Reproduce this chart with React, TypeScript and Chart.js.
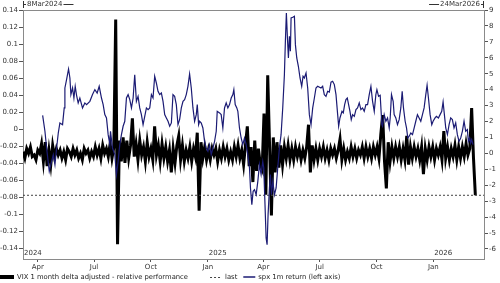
import React, { useEffect, useRef } from 'react';
import { Chart, registerables } from 'chart.js';

Chart.register(...registerables);

// ---- data ----
const startLabel = '8Mar2024';
const endLabel = '24Mar2026';
const axisMaxDay = 746; // days from 8 Mar 2024 to 24 Mar 2026

const monthTickDays = [24, 115, 207, 299, 389, 480, 572, 664];
const monthTickLabels = ['Apr', 'Jul', 'Oct', 'Jan', 'Apr', 'Jul', 'Oct', 'Jan'];
const yearLabels = ['2024', '2025', '2026'];
const yearLabelDays = [0, 299, 664];

const leftTicks = [0.14, 0.12, 0.1, 0.08, 0.06, 0.04, 0.02, 0, -0.02, -0.04, -0.06, -0.08, -0.1, -0.12, -0.14];
const rightTicks = [9, 8, 7, 6, 5, 4, 3, 2, 1, 0, -1, -2, -3, -4, -5, -6];

const legendLabels = ['VIX 1 month delta adjusted - relative performance', 'last', 'spx 1m return (left axis)'];

// spx 1m return (left axis), x in days since 8 Mar 2024
const spxDays = [
  31.8, 35.5, 38.2, 42.5, 46.3, 49.0, 51.7, 54.4, 57.1, 59.7, 64.0, 66.7, 67.8, 70.5, 73.7, 75.9, 77.5, 80.2, 82.4, 84.5,
  86.7, 89.3, 92.0, 96.3, 100.1, 102.8, 108.2, 112.5, 116.3, 120.0, 123.3, 127.0, 129.7, 132.4, 135.1, 137.8, 140.5, 141.6, 144.8, 148.6,
  151.2, 153.9, 156.6, 159.3, 162.0, 164.7, 167.4, 170.1, 172.8, 175.5, 178.2, 180.8, 183.5, 186.2, 188.9, 191.6, 194.3, 197.0, 199.7, 202.4,
  205.1, 207.8, 210.4, 213.1, 215.8, 218.5, 221.2, 223.9, 226.6, 229.3, 232.0, 234.7, 237.4, 240.1, 242.7, 245.4, 248.1, 250.8, 253.5, 256.2,
  258.9, 261.5, 264.2, 266.9, 269.6, 272.3, 275.0, 277.7, 280.4, 282.0, 284.2, 285.8, 288.5, 291.1, 293.8, 296.5, 299.2, 301.9, 304.6, 307.3,
  310.0, 312.7, 314.3, 318.1, 320.7, 323.4, 326.1, 328.8, 331.5, 334.2, 336.9, 339.6, 341.2, 343.4, 346.0, 347.7, 350.3, 353.0, 355.7, 358.4,
  361.1, 363.8, 366.5, 368.1, 370.3, 372.4, 374.6, 377.3, 380.0, 382.6, 385.3, 388.0, 389.6, 391.8, 393.4, 395.0, 396.6, 398.8, 400.4, 402.0,
  404.2, 406.9, 409.6, 412.2, 414.9, 417.6, 420.3, 423.0, 424.6, 426.2, 427.9, 429.5, 431.1, 432.7, 433.8, 436.5, 439.2, 440.8, 443.0, 445.6,
  448.3, 451.0, 453.2, 455.3, 458.0, 460.7, 463.4, 466.1, 468.8, 471.5, 474.1, 476.8, 482.2, 484.9, 487.6, 490.3, 493.0, 495.7, 498.4, 501.1,
  503.8, 506.5, 509.2, 510.8, 512.9, 516.2, 518.3, 520.5, 522.6, 524.8, 526.9, 529.1, 531.2, 533.4, 536.1, 538.8, 541.4, 544.1, 546.8, 549.5,
  552.2, 554.9, 557.6, 560.3, 563.0, 565.7, 568.4, 571.0, 572.7, 575.4, 578.0, 580.7, 581.8, 584.5, 587.2, 589.9, 592.6, 594.2, 596.3, 599.0,
  600.6, 603.3, 606.0, 608.7, 611.4, 613.6, 615.7, 618.4, 620.6, 622.7, 624.9, 627.6, 630.3, 633.0, 635.6, 638.3, 641.0, 643.7, 646.4, 649.1,
  651.8, 653.9, 656.1, 658.8, 661.5, 663.6, 666.8, 669.0, 672.2, 674.9, 677.6, 679.8, 681.9, 684.1, 686.8, 689.5, 692.1, 694.8, 697.5, 700.2,
  702.9, 705.6, 708.3, 711.0, 713.7, 716.4, 719.1, 720.7, 722.8, 724.4, 726.1, 728.2
];
const spxValues = [
  0.0167, -0.0021, -0.0218, -0.0493, -0.0375, -0.0296, -0.0414, -0.0218, -0.0041, 0.0077, 0.0057, 0.0254, 0.0489, 0.0588, 0.0713, 0.0607, 0.0411, 0.0489, 0.0371, 0.0509,
  0.0403, 0.0313, 0.0371, 0.0254, 0.0313, 0.0293, 0.0332, 0.0411, 0.0470, 0.0430, 0.0509, 0.0371, 0.0293, 0.0175, 0.0136, -0.0061, -0.0178, -0.0021, -0.0218, -0.0296,
  -0.0532, -0.0375, -0.0178, -0.0061, 0.0038, 0.0097, 0.0371, 0.0411, 0.0352, 0.0254, 0.0371, 0.0646, 0.0332, 0.0391, 0.0254, 0.0175, 0.0057, 0.0155, 0.0254, 0.0234,
  0.0254, 0.0411, 0.0371, 0.0627, 0.0548, 0.0450, 0.0411, 0.0430, 0.0332, 0.0175, 0.0136, 0.0097, 0.0038, 0.0077, 0.0411, 0.0391, 0.0293, 0.0057, 0.0120, 0.0254,
  0.0332, 0.0352, 0.0411, 0.0509, 0.0654, 0.0489, 0.0254, 0.0097, 0.0175, 0.0293, 0.0057, 0.0097, 0.0077, 0.0018, -0.0139, -0.0218, -0.0257, -0.0178, -0.0296, -0.0218,
  -0.0139, -0.0021, 0.0214, 0.0195, 0.0175, 0.0018, 0.0254, 0.0313, 0.0254, 0.0293, 0.0371, 0.0411, 0.0470, 0.0293, 0.0254, 0.0214, 0.0018, -0.0100, -0.0178, -0.0100,
  -0.0178, -0.0296, -0.0453, -0.0689, -0.0886, -0.0728, -0.0709, -0.0768, -0.0611, -0.0414, -0.0532, -0.0375, -0.0453, -0.0925, -0.1278, -0.1357, -0.1003, -0.0689, -0.0532, -0.0768,
  -0.0611, -0.0768, -0.0689, -0.0453, -0.0218, -0.0061, 0.0254, 0.0646, 0.1039, 0.1373, 0.1078, 0.0843, 0.1098, 0.0921, 0.1314, 0.1322, 0.1334, 0.1000, 0.0843, 0.0745,
  0.0607, 0.0509, 0.0627, 0.0607, 0.0666, 0.0489, 0.0175, 0.0057, 0.0254, 0.0371, 0.0489, 0.0509, 0.0489, 0.0509, 0.0411, 0.0391, 0.0450, 0.0440, 0.0558, 0.0568,
  0.0529, 0.0411, 0.0175, 0.0038, 0.0136, 0.0214, 0.0195, 0.0293, 0.0352, 0.0371, 0.0293, 0.0214, 0.0116, 0.0175, 0.0155, 0.0234, 0.0254, 0.0313, 0.0234, 0.0254,
  0.0214, 0.0293, 0.0293, 0.0411, 0.0509, 0.0332, 0.0214, 0.0411, 0.0470, 0.0391, 0.0403, 0.0057, 0.0038, 0.0175, 0.0097, 0.0136, 0.0018, 0.0136, 0.0411, 0.0332,
  0.0175, 0.0136, 0.0057, 0.0116, 0.0254, 0.0450, 0.0254, 0.0097, 0.0018, -0.0100, -0.0080, -0.0041, -0.0061, 0.0018, 0.0097, 0.0175, 0.0136, 0.0097, 0.0175, 0.0254,
  0.0411, 0.0521, 0.0371, 0.0175, 0.0057, 0.0097, 0.0136, 0.0155, 0.0136, 0.0175, 0.0214, 0.0324, 0.0175, 0.0018, -0.0061, 0.0057, 0.0136, 0.0116, 0.0018, 0.0077,
  -0.0061, -0.0139, -0.0100, -0.0021, 0.0097, -0.0021, -0.0002, -0.0139, -0.0100, -0.0159, -0.0119, -0.0178
];

// VIX 1 month delta adjusted - relative performance (right axis), one reading every 3 days from 8 Mar 2024
const vixStepDays = 3;
const vixValues = [
  0.1, -0.3, 0.3, 0.0, 0.4, -0.2, -0.1, -0.4, 0.2, 0.0,
  0.6, -0.5, 0.7, -0.8, 0.2, -0.7, 0.5, -0.2, 0.3, -0.1,
  0.2, -0.3, 0.1, -0.4, 0.3, 0.1, -0.2, 0.3, -0.1, 0.2,
  -0.3, 0.0, -0.4, 0.3, 0.0, 0.2, -0.3, 0.1, -0.2, 0.4,
  -0.1, 0.3, -0.3, 0.5, 0.0, 0.3, -0.2, 0.6, -0.3, 0.4,
  8.4, -5.7, 0.8, -0.5, 1.0, -0.6, 0.8, -0.3, 0.5, 2.2,
  -0.2, 0.6, -0.4, 0.8, -0.1, 0.4, -0.5, 0.7, -0.2, 0.3,
  -0.4, 1.7, -0.1, 0.5, -0.5, 0.6, -0.3, 0.4, -0.5, 0.2,
  -1.2, 0.3, -0.6, 0.5, 1.1, -0.4, 0.5, -0.5, 0.2, -0.3,
  0.4, -0.5, 0.3, -0.2, 1.3, -3.6, 0.7, -0.3, 0.4, -0.4,
  0.2, -0.4, 0.3, -0.1, 0.3, -0.5, 0.2, -0.3, 0.4, -0.2,
  0.3, -0.4, 0.1, -0.4, 0.4, -0.2, 0.5, -0.3, 0.2, -0.7,
  0.5, 1.7, -0.8, 0.4, -1.8, 0.8, -1.1, 0.3, -0.7, -1.0,
  2.5, -2.6, 4.9, 0.5, -3.9, 1.0, -1.2, 0.7, -0.9, 0.5,
  -0.7, 0.4, -0.3, 0.5, -0.4, 0.3, -0.4, 0.4, -0.2, 0.3,
  -0.4, 0.2, -0.3, 0.4, 1.8, -1.2, 0.5, -0.4, 0.3, -0.4,
  0.3, -0.2, 0.4, -0.3, 0.2, -0.4, 0.3, -0.1, 0.3, -0.3,
  0.2, 0.9, -0.4, 0.3, -0.4, 0.1, -0.3, 0.4, -0.2, 0.3,
  -0.3, 0.2, -0.1, 0.4, -0.3, 0.4, -0.2, 0.3, -0.3, 0.4,
  -0.1, 0.4, -0.3, 1.2, 2.4, -0.5, -2.2, 0.7, -0.5, 0.4,
  -0.3, 0.4, -0.2, 0.4, -0.4, 0.3, -0.4, 1.1, -0.7, 0.4,
  -0.3, 0.4, -0.2, 0.3, -0.4, 0.4, -1.3, 0.3, -0.4, 0.4,
  -0.2, 0.4, -0.4, 0.3, -0.1, 0.4, -0.4, 1.4, -0.3, 0.4,
  -0.4, 0.3, -0.2, 0.5, -0.4, 0.4, -0.3, 0.4, -0.2, 0.6,
  -0.1, 0.3, 2.85, -0.3, -2.63
];

const FONT = '"DejaVu Sans", Verdana, sans-serif';
const NAVY = '#1b1b74';

export default function App() {
  const ref = useRef<HTMLCanvasElement | null>(null);

  useEffect(() => {
    const canvas = ref.current;
    if (!canvas) return;

    const vixData = vixValues.map((v, i) => ({ x: i * vixStepDays, y: v }));
    const spxData = spxValues.map((v, i) => ({ x: spxDays[i], y: v }));
    const lastVal = vixValues[vixValues.length - 1];
    const lastData = [{ x: 0, y: lastVal }, { x: axisMaxDay, y: lastVal }];

    const decor = {
      id: 'decor',
      afterDraw(chart: any) {
        const { ctx, chartArea: a, scales } = chart;
        const xs = scales.x;
        ctx.save();
        // top frame line
        ctx.strokeStyle = '#8a8a8a';
        ctx.lineWidth = 1;
        ctx.beginPath();
        ctx.moveTo(a.left, a.top + 0.5);
        ctx.lineTo(a.right, a.top + 0.5);
        ctx.stroke();

        ctx.font = `7px ${FONT}`;
        ctx.fillStyle = '#333';
        ctx.textBaseline = 'middle';

        // year labels
        ctx.textAlign = 'left';
        yearLabels.forEach((t, i) => {
          const px = xs.getPixelForValue(yearLabelDays[i]);
          ctx.fillText(t, px + 1, a.bottom - 5.5);
        });

        // range labels at top
        ctx.strokeStyle = '#333';
        const ty = 4.5;
        const lx = a.left;
        ctx.beginPath();
        ctx.moveTo(lx + 0.5, 1);
        ctx.lineTo(lx + 0.5, 8);
        ctx.moveTo(lx, ty);
        ctx.lineTo(lx + 3, ty);
        ctx.stroke();
        ctx.textAlign = 'left';
        ctx.fillText(startLabel, lx + 4, ty);
        const sw = ctx.measureText(startLabel).width;
        ctx.beginPath();
        ctx.moveTo(lx + 5 + sw, ty);
        ctx.lineTo(lx + 15 + sw, ty);
        ctx.stroke();

        const rx = a.right;
        ctx.beginPath();
        ctx.moveTo(rx - 0.5, 1);
        ctx.lineTo(rx - 0.5, 8);
        ctx.moveTo(rx, ty);
        ctx.lineTo(rx - 3, ty);
        ctx.stroke();
        ctx.textAlign = 'right';
        ctx.fillText(endLabel, rx - 4, ty);
        const ew = ctx.measureText(endLabel).width;
        ctx.beginPath();
        ctx.moveTo(rx - 5 - ew, ty);
        ctx.lineTo(rx - 15 - ew, ty);
        ctx.stroke();

        // legend
        const ly = 277;
        ctx.font = `6.8px ${FONT}`;
        ctx.textAlign = 'left';
        ctx.fillStyle = '#222';
        let x = 0;
        ctx.strokeStyle = '#000';
        ctx.lineWidth = 4;
        ctx.beginPath();
        ctx.moveTo(x, ly);
        ctx.lineTo(x + 14, ly);
        ctx.stroke();
        x += 17;
        ctx.fillText(legendLabels[0], x, ly);
        x += ctx.measureText(legendLabels[0]).width + 22;

        ctx.strokeStyle = '#444';
        ctx.lineWidth = 1;
        ctx.setLineDash([2, 2]);
        ctx.beginPath();
        ctx.moveTo(x, ly + 0.5);
        ctx.lineTo(x + 11, ly + 0.5);
        ctx.stroke();
        ctx.setLineDash([]);
        x += 15;
        ctx.fillText(legendLabels[1], x, ly);
        x += ctx.measureText(legendLabels[1]).width + 6;

        ctx.strokeStyle = NAVY;
        ctx.lineWidth = 1.5;
        ctx.beginPath();
        ctx.moveTo(x, ly);
        ctx.lineTo(x + 12, ly);
        ctx.stroke();
        x += 15;
        ctx.fillText(legendLabels[2], x, ly);
        ctx.restore();
      },
    };

    const tickFont = { family: FONT, size: 7 };

    const chart = new Chart(canvas, {
      type: 'line',
      data: {
        datasets: [
          {
            label: legendLabels[0],
            data: vixData,
            yAxisID: 'y1',
            borderColor: '#000',
            borderWidth: 3,
            pointRadius: 0,
            tension: 0,
            order: 2,
          },
          {
            label: legendLabels[1],
            data: lastData,
            yAxisID: 'y1',
            borderColor: '#444',
            borderWidth: 1,
            borderDash: [2, 2],
            pointRadius: 0,
            order: 1,
          },
          {
            label: legendLabels[2],
            data: spxData,
            yAxisID: 'y',
            borderColor: NAVY,
            borderWidth: 1.2,
            pointRadius: 0,
            tension: 0,
            order: 0,
          },
        ],
      },
      options: {
        animation: false,
        responsive: false,
        devicePixelRatio: 1,
        layout: { padding: { top: 10, left: 0, right: 0, bottom: 0 } },
        plugins: {
          legend: { display: false },
          tooltip: { enabled: false },
        },
        scales: {
          x: {
            type: 'linear',
            min: 0,
            max: axisMaxDay,
            afterBuildTicks: (s: any) => {
              s.ticks = monthTickDays.map((v) => ({ value: v }));
            },
            afterFit: (s: any) => {
              s.height = 24;
            },
            ticks: {
              autoSkip: false,
              maxRotation: 0,
              padding: 1,
              font: tickFont,
              color: '#333',
              callback: (_v: any, i: number) => monthTickLabels[i],
            },
            grid: { drawOnChartArea: false, drawTicks: true, tickLength: 3, color: '#555' },
            border: { display: true, color: '#8a8a8a' },
          },
          y: {
            type: 'linear',
            position: 'left',
            min: -0.1526,
            max: 0.1408,
            afterBuildTicks: (s: any) => {
              s.ticks = leftTicks.map((v) => ({ value: v }));
            },
            afterFit: (s: any) => {
              s.width = 23;
            },
            ticks: {
              padding: 1,
              font: tickFont,
              color: '#333',
              callback: (v: any) => String(Math.round(Number(v) * 100) / 100),
            },
            grid: { drawOnChartArea: false, drawTicks: true, tickLength: 4, color: '#555' },
            border: { display: true, color: '#8a8a8a' },
          },
          y1: {
            type: 'linear',
            position: 'right',
            min: -6.63,
            max: 9,
            afterBuildTicks: (s: any) => {
              s.ticks = rightTicks.map((v) => ({ value: v }));
            },
            afterFit: (s: any) => {
              s.width = 16;
            },
            ticks: {
              padding: 1,
              font: tickFont,
              color: '#333',
              callback: (v: any) => String(v),
            },
            grid: { drawOnChartArea: false, drawTicks: true, tickLength: 4, color: '#555' },
            border: { display: true, color: '#8a8a8a' },
          },
        },
      },
      plugins: [decor],
    } as any);

    return () => chart.destroy();
  }, []);

  return (
    <div style={{ position: 'fixed', left: 0, top: 0, width: 500, height: 283, background: '#fff' }}>
      <canvas ref={ref} width={500} height={283} style={{ display: 'block', width: 500, height: 283 }} />
    </div>
  );
}
